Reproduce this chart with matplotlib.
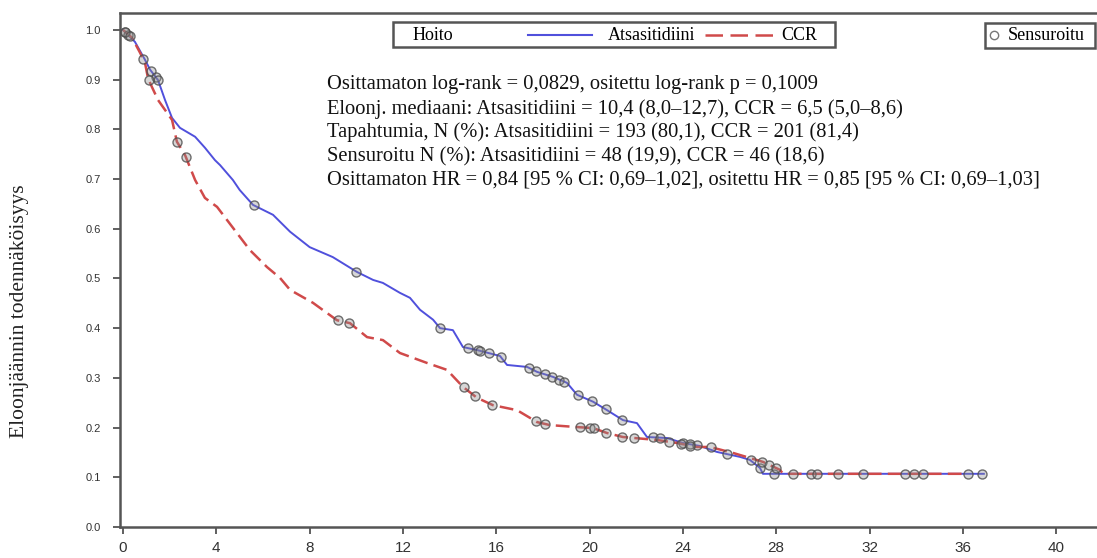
import numpy as np
import matplotlib
matplotlib.use('Agg')
import matplotlib.pyplot as plt
from matplotlib.lines import Line2D
from matplotlib.patches import Rectangle

# --- data (months, survival probability) ---
aza_t = [0, 0.21, 0.51, 0.94, 1.16, 1.5, 1.8, 2.1, 2.44, 3.09, 3.51, 3.94, 4.16, 4.71,
         5.0, 5.57, 6.43, 7.16, 8.0, 8.99, 10.03, 10.72, 11.14, 11.87, 12.3, 12.73, 13.29,
         13.59, 14.14, 14.57, 15.17, 16.16, 16.46, 17.32, 17.75, 18.43, 19.03, 19.46, 20.15,
         20.75, 21.43, 22.03, 22.46, 23.32, 24.0, 24.73, 25.46, 26.45, 26.87, 27.3, 27.43, 36.9]
aza_s = [1.0, 0.99, 0.976, 0.94, 0.92, 0.899, 0.859, 0.823, 0.803, 0.785, 0.763, 0.738, 0.728,
         0.698, 0.678, 0.648, 0.628, 0.594, 0.563, 0.543, 0.513, 0.497, 0.491, 0.471, 0.461,
         0.437, 0.417, 0.40, 0.396, 0.362, 0.356, 0.344, 0.326, 0.322, 0.312, 0.302, 0.29,
         0.266, 0.252, 0.235, 0.215, 0.209, 0.181, 0.179, 0.169, 0.163, 0.151, 0.141, 0.135,
         0.119, 0.107, 0.107]
aza_cens = [0.1, 0.2, 1.2, 1.4, 1.5, 5.6, 10.0, 13.6, 14.8, 15.2, 15.3, 15.7, 16.2, 17.4,
            17.7, 18.1, 18.4, 18.7, 18.9, 19.5, 20.1, 20.7, 21.4, 22.7, 23.0, 24.0, 24.3,
            24.6, 25.9, 26.9, 27.3, 27.9, 29.5, 30.65, 34.3, 36.8]

ccr_t = [0, 0.39, 0.73, 0.94, 1.07, 1.24, 1.5, 1.8, 2.1, 2.31, 2.66, 3.09, 3.51, 4.03, 4.71,
         5.44, 6.17, 6.73, 7.16, 8.14, 9.17, 9.73, 10.46, 11.14, 11.87, 13.03, 13.89, 14.57,
         15.17, 15.86, 16.89, 17.75, 18.3, 19.46, 20.15, 20.75, 21.43, 22.9, 23.75, 24.6,
         25.16, 26.15, 27.43, 28.16, 28.29, 36.2]
ccr_s = [1.0, 0.984, 0.954, 0.934, 0.903, 0.885, 0.859, 0.839, 0.819, 0.775, 0.748, 0.698,
         0.662, 0.644, 0.602, 0.557, 0.523, 0.501, 0.477, 0.451, 0.416, 0.41, 0.382, 0.376,
         0.35, 0.33, 0.316, 0.282, 0.26, 0.245, 0.235, 0.211, 0.205, 0.201, 0.199, 0.189,
         0.181, 0.175, 0.169, 0.161, 0.161, 0.149, 0.131, 0.115, 0.107, 0.107]
ccr_cens = [0.1, 0.3, 0.86, 1.1, 2.31, 2.7, 9.2, 9.7, 14.6, 15.1, 15.8, 17.7, 18.1, 19.6,
            20.0, 20.2, 20.7, 21.4, 21.9, 23.4, 23.9, 24.3, 25.2, 27.4, 27.7, 28.0, 28.7,
            29.75, 31.7, 33.5, 33.9, 36.2]

x_ticks = list(range(0, 41, 4))
y_ticks = [round(v * 0.1, 1) for v in range(11)]

stats_lines = [
    'Osittamaton log-rank = 0,0829, ositettu log-rank p = 0,1009',
    'Eloonj. mediaani: Atsasitidiini = 10,4 (8,0–12,7), CCR = 6,5 (5,0–8,6)',
    'Tapahtumia, N (%): Atsasitidiini = 193 (80,1), CCR = 201 (81,4)',
    'Sensuroitu N (%): Atsasitidiini = 48 (19,9), CCR = 46 (18,6)',
    'Osittamaton HR = 0,84 [95 % CI: 0,69–1,02], ositettu HR = 0,85 [95 % CI: 0,69–1,03]',
]

BLUE = '#5050dc'
RED = '#d04a4a'
SERIF = 'Liberation Serif'
SANS = 'Liberation Sans'

W, H = 1097, 558
fig = plt.figure(figsize=(W / 100, H / 100), dpi=100)
fig.patch.set_facecolor('white')


def fx(px):
    return px / W


def fy(py):
    return 1 - py / H


ax = fig.add_axes([fx(120), fy(527), fx(1097) - fx(120), fy(13) - fy(527)])
ax.set_xlim(-0.13, 41.75)
ax.set_ylim(0, 1.034)

ax.plot(aza_t, aza_s, color=BLUE, lw=1.4, zorder=3)
ax.plot(ccr_t, ccr_s, color=RED, lw=1.8, dashes=(5.5, 2.5), zorder=3)

# censor marks sit on the curves
for t, s, c in [(aza_t, aza_s, aza_cens), (ccr_t, ccr_s, ccr_cens)]:
    ys = np.interp(c, t, s)
    ax.plot(c, ys, ls='none', marker='o', ms=6.5, mfc=(0.55, 0.55, 0.55, 0.35),
            mec=(0.3, 0.3, 0.3, 0.8), mew=1.0, zorder=4)

ax.set_xticks(x_ticks)
ax.set_yticks(y_ticks)
ax.set_yticklabels([f'{v:.1f}' for v in y_ticks], family=SANS, fontsize=8, color='#333')
ax.set_xticklabels([str(v) for v in x_ticks], family=SANS, fontsize=11, color='#333')
ax.tick_params(direction='out', length=5, width=1.2, color='#444')
ax.tick_params(axis='y', pad=9)
ax.tick_params(axis='x', pad=5)
for side in ['left', 'bottom', 'top']:
    ax.spines[side].set_linewidth(1.8)
    ax.spines[side].set_color('#555')
ax.spines['right'].set_visible(False)

fig.text(fx(20), fy(311), 'Eloonjäännin todennäköisyys', rotation=90, ha='center',
         va='center', family=SERIF, fontsize=15.5, color='#222')

# statistics block
for i, line in enumerate(stats_lines):
    fig.text(fx(327), fy(85 + i * 23.8), line, ha='left', va='center', family=SERIF,
             fontsize=14.8, color='#111')

# legend boxes drawn by hand
fig.add_artist(Rectangle((fx(393), fy(47)), fx(835) - fx(393), fy(22) - fy(47),
                         transform=fig.transFigure, fill=False, ec='#555', lw=1.8))
fig.text(fx(413), fy(35), 'Hoito', ha='left', va='center', family=SERIF, fontsize=13)
fig.add_artist(Line2D([fx(528), fx(592)], [fy(35), fy(35)], transform=fig.transFigure,
                      color=BLUE, lw=1.5))
fig.text(fx(608), fy(35), 'Atsasitidiini', ha='left', va='center', family=SERIF, fontsize=13)
fig.add_artist(Line2D([fx(705), fx(775)], [fy(35), fy(35)], transform=fig.transFigure,
                      color=RED, lw=1.8, dashes=(7, 3)))
fig.text(fx(781), fy(35), 'CCR', ha='left', va='center', family=SERIF, fontsize=13)

fig.add_artist(Rectangle((fx(985), fy(48)), fx(1095) - fx(985), fy(23) - fy(48),
                         transform=fig.transFigure, fill=False, ec='#555', lw=1.8))
fig.add_artist(Line2D([fx(994)], [fy(35)], transform=fig.transFigure, ls='none',
                      marker='o', ms=6, mfc='none', mec='#777', mew=1.0))
fig.text(fx(1008), fy(35), 'Sensuroitu', ha='left', va='center', family=SERIF, fontsize=13)

fig.savefig('out.png', dpi=100, facecolor='white')
